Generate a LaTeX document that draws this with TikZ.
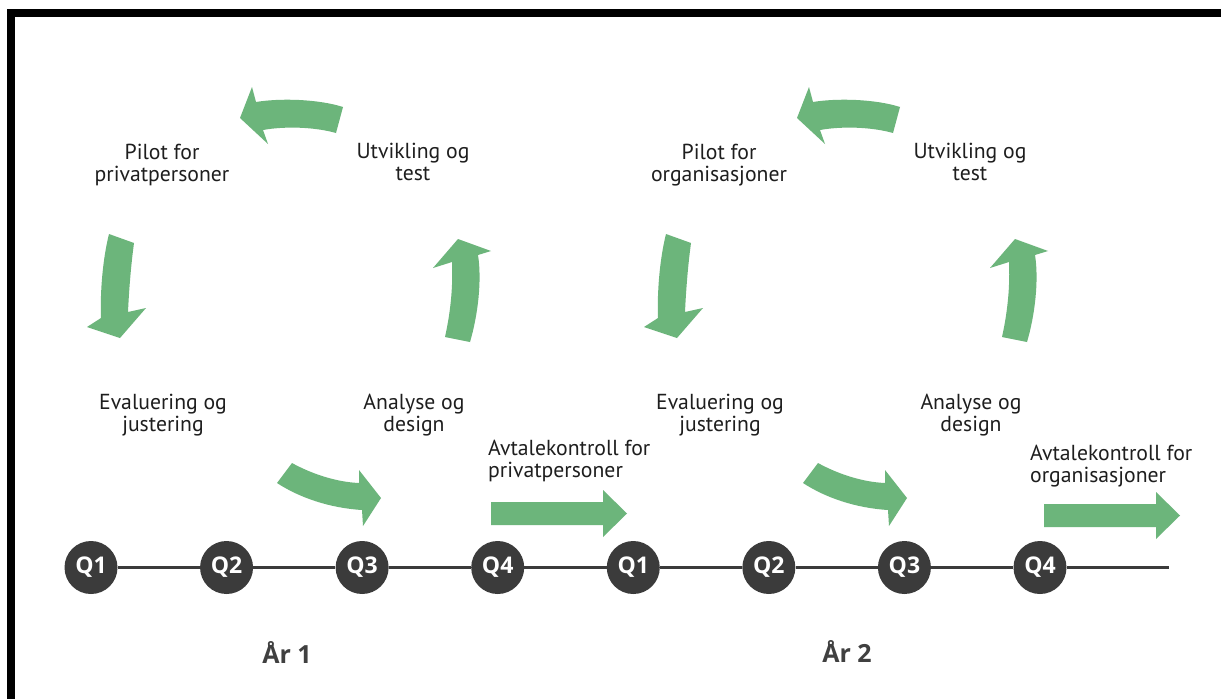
\documentclass[tikz,border=0pt]{standalone}
\usepackage{fontspec}
\setmainfont{PT Sans}
\newfontfamily\qfont{Open Sans}
\definecolor{leaf}{HTML}{6CB57B}
\definecolor{disc}{HTML}{3B3B3B}
\definecolor{ink}{HTML}{1E1E1E}
\definecolor{yearink}{HTML}{404040}

% the three curved arrows of one development cycle
\newcommand\cyclearrows{%
  % top: Utvikling -> Pilot
  \fill[leaf] (343,107) .. controls (318,99) and (280,98) .. (256,102)
    -- (252,87) -- (240,118) -- (268,144) -- (263,130)
    .. controls (285,126) and (315,127) .. (336,133) -- cycle;
  % left: Pilot -> Evaluering
  \fill[leaf] (109,234) -- (134,243)
    .. controls (131,265) and (129,290) .. (128,312)
    -- (146,308) -- (120,338) -- (87,327) -- (101,318)
    .. controls (100,290) and (103,258) .. (109,234) -- cycle;
  % right: Analyse -> Utvikling
  \fill[leaf] (458,239) -- (491,251) -- (478,255)
    .. controls (482,280) and (478,315) .. (470,342)
    -- (445,337)
    .. controls (451,310) and (453,285) .. (452,262)
    -- (433,268) -- cycle;
}
% the arrow that leads from the cycle down to the timeline
\newcommand\downturnarrow{%
  \fill[leaf] (292,463) .. controls (310,473) and (335,482) .. (359,483)
    -- (359,470) -- (381,498) -- (363,526) -- (362,510)
    .. controls (330,508) and (300,498) .. (277,483) -- cycle;
}
% straight block arrow along the timeline
\newcommand\straightarrow{%
  \fill[leaf] (491,502) -- (603,502) -- (603,490) -- (627,513.5)
    -- (603,537) -- (603,525) -- (491,525) -- cycle;
}

\begin{document}
\begin{tikzpicture}[x=1pt,y=-1pt,
  label/.style={font=\fontsize{21.7}{22}\selectfont, text=ink, align=center,
    inner sep=0pt, execute at begin node=\strut, execute at end node=\strut},
  leftlabel/.style={label, align=left, anchor=west},
  qdot/.style={circle, fill=disc, minimum size=53pt, inner sep=0pt, text=white,
    font=\qfont\bfseries\fontsize{23}{23}\selectfont},
  year/.style={font=\qfont\bfseries\fontsize{25}{25}\selectfont, text=yearink,
    anchor=base, inner sep=0pt},
  tline/.style={draw=disc, line width=3pt}]
\useasboundingbox (0,0) rectangle (1221,699);
\fill[white] (0,0) rectangle (1221,699);

% frame
\fill[black] (7,9) rectangle (15,699);
\fill[black] (7,9) rectangle (1221,17);

% arrows
\cyclearrows
\begin{scope}[xshift=557pt]\cyclearrows\end{scope}
\downturnarrow
\begin{scope}[xshift=526pt]\downturnarrow\end{scope}
\straightarrow
\begin{scope}[xshift=553pt,yshift=-2pt]\straightarrow\end{scope}

% cycle labels, year 1
\node[label] (pilot1) at (162,166) {Pilot for\\privatpersoner};
\node[label] (utv1)   at (413,165) {Utvikling og\\test};
\node[label] (eval1)  at (163,416) {Evaluering og\\justering};
\node[label] (ana1)   at (414,416.5) {Analyse og\\design};
\node[leftlabel] (avt1) at (488,462) {Avtalekontroll for\\privatpersoner};

% cycle labels, year 2
\node[label] (pilot2) at (719,166) {Pilot for\\organisasjoner};
\node[label] (utv2)   at (970,165) {Utvikling og\\test};
\node[label] (eval2)  at (720,416) {Evaluering og\\justering};
\node[label] (ana2)   at (971,416.5) {Analyse og\\design};
\node[leftlabel] (avt2) at (1030,467) {Avtalekontroll for\\organisasjoner};

% timeline with quarters
\coordinate (tend) at (1169,567.5);
\foreach \i/\q in {0/1,1/2,2/3,3/4,4/1,5/2,6/3,7/4}
  \node[qdot] (q\i) at ({91+135.57*\i},567.5) {Q\q};
\foreach \a/\b in {q0/q1,q1/q2,q2/q3,q3/q4,q4/q5,q5/q6,q6/q7,q7/tend}
  \draw[tline] (\a) -- (\b);

% years
\node[year] (y1) at (287,663) {År 1};
\node[year] (y2) at (847,662) {År 2};
\end{tikzpicture}
\end{document}
